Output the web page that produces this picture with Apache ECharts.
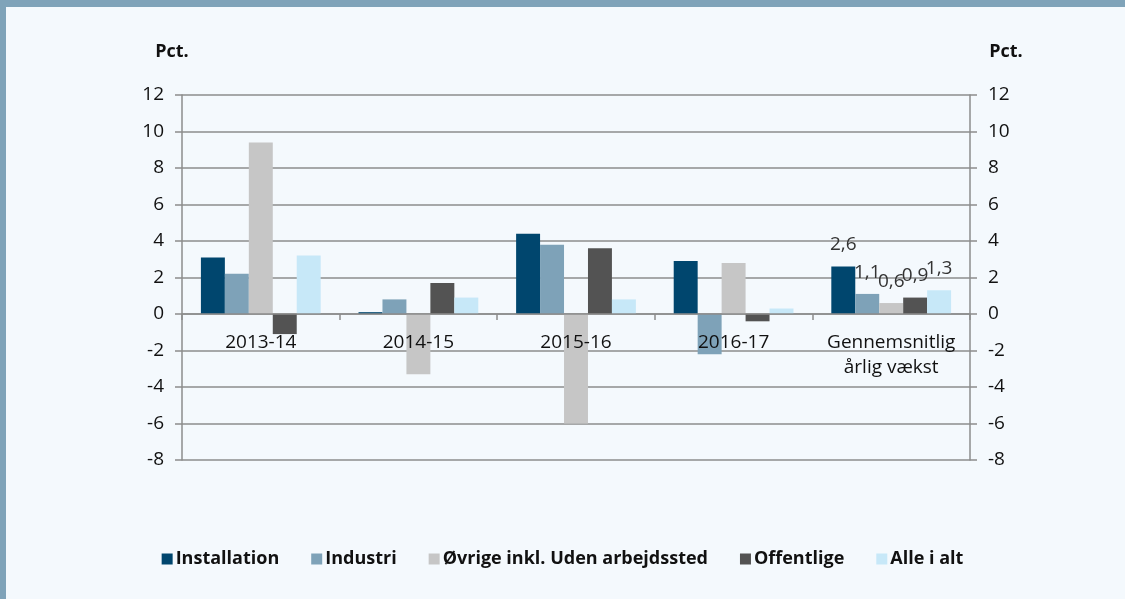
<!DOCTYPE html>
<html>
<head>
<meta charset="utf-8">
<script src="https://cdn.jsdelivr.net/npm/echarts@6/dist/echarts.min.js"></script>
<style>
  html, body { margin: 0; padding: 0; background: #f4f9fd; }
  #chart { width: 1125px; height: 599px; }
</style>
</head>
<body>
<div id="chart"></div>
<script>
// kategorier og serier
let categories = ['2013-14', '2014-15', '2015-16', '2016-17', 'Gennemsnitlig\nårlig vækst']
let seriesNames = ['Installation', 'Industri', 'Øvrige inkl. Uden arbejdssted', 'Offentlige', 'Alle i alt']
let installation = [3.1, 0.1, 4.4, 2.9, 2.6]
let industri = [2.2, 0.8, 3.8, -2.2, 1.1]
let oevrige = [9.4, -3.3, -6.0, 2.8, 0.6]
let offentlige = [-1.1, 1.7, 3.6, -0.4, 0.9]
let alleIAlt = [3.2, 0.9, 0.8, 0.3, 1.3]
let colors = ['#00466e', '#7ea2b8', '#c6c6c6', '#535353', '#c7e8f8']

let font = '"Open Sans", sans-serif'
let gridColor = '#8c8c8c'
let yMin = -8
let yMax = 12
let plotTop = 95
let plotHeight = 599 - 139 - plotTop

// kun sidste kategori (gennemsnit) har datalabels
function withLabels (values) {
  return values.map((v, i) => {
    if (i !== values.length - 1) {
      return v
    }
    return {
      value: v,
      label: {
        show: true,
        position: 'top',
        distance: 12,
        fontFamily: font,
        fontSize: 19,
        color: '#333',
        formatter: p => String(p.value).replace('.', ',')
      }
    }
  })
}

let seriesData = [installation, industri, oevrige, offentlige, alleIAlt]

let yAxisBase = {
  type: 'value',
  min: yMin,
  max: yMax,
  interval: 2,
  name: 'Pct.',
  nameLocation: 'end',
  nameGap: 34,
  axisLine: { show: true, lineStyle: { color: gridColor, width: 1.5 } },
  axisTick: { show: true, length: 7, lineStyle: { color: gridColor, width: 1.5 } },
  splitLine: { show: true, lineStyle: { color: gridColor, width: 1.5 } },
  axisLabel: { margin: 18, fontFamily: font, fontSize: 19, color: '#111' }
}

// x-aksen ligger på nul-linjen
let zeroOffset = -plotHeight * (0 - yMin) / (yMax - yMin)

let chart = echarts.init(document.getElementById('chart'))
chart.setOption({
  backgroundColor: '#f4f9fd',
  animation: false,
  color: colors,
  graphic: [
    { type: 'rect', left: 0, top: 0, shape: { width: 1125, height: 7 }, style: { fill: '#7fa3b9' } },
    { type: 'rect', left: 0, top: 0, shape: { width: 6, height: 599 }, style: { fill: '#7fa3b9' } }
  ],
  grid: { left: 182, right: 155, top: plotTop, bottom: 139 },
  legend: {
    bottom: 26,
    left: 'center',
    itemWidth: 11,
    itemHeight: 11,
    itemGap: 32,
    icon: 'rect',
    textStyle: { fontFamily: font, fontSize: 18, fontWeight: 'bold', color: '#111', padding: [0, 0, 0, -2] },
    data: seriesNames
  },
  xAxis: {
    type: 'category',
    data: categories,
    z: 5,
    offset: zeroOffset,
    axisLine: { onZero: false, lineStyle: { color: gridColor, width: 1.5 } },
    axisTick: { show: true, length: 6, lineStyle: { color: gridColor, width: 1.5 } },
    axisLabel: { interval: 0, margin: 16, fontFamily: font, fontSize: 19, color: '#111', lineHeight: 25 }
  },
  yAxis: [
    Object.assign({}, yAxisBase, {
      position: 'left',
      nameTextStyle: { fontFamily: font, fontSize: 18, fontWeight: 'bold', color: '#111', padding: [0, 20, 0, 0] }
    }),
    Object.assign({}, yAxisBase, {
      position: 'right',
      splitLine: { show: false },
      nameTextStyle: { fontFamily: font, fontSize: 18, fontWeight: 'bold', color: '#111', padding: [0, 0, 0, 72] }
    })
  ],
  series: seriesNames.map((name, i) => ({
    name: name,
    type: 'bar',
    data: withLabels(seriesData[i]),
    barGap: '0%',
    barCategoryGap: '24%'
  }))
})
</script>
</body>
</html>
